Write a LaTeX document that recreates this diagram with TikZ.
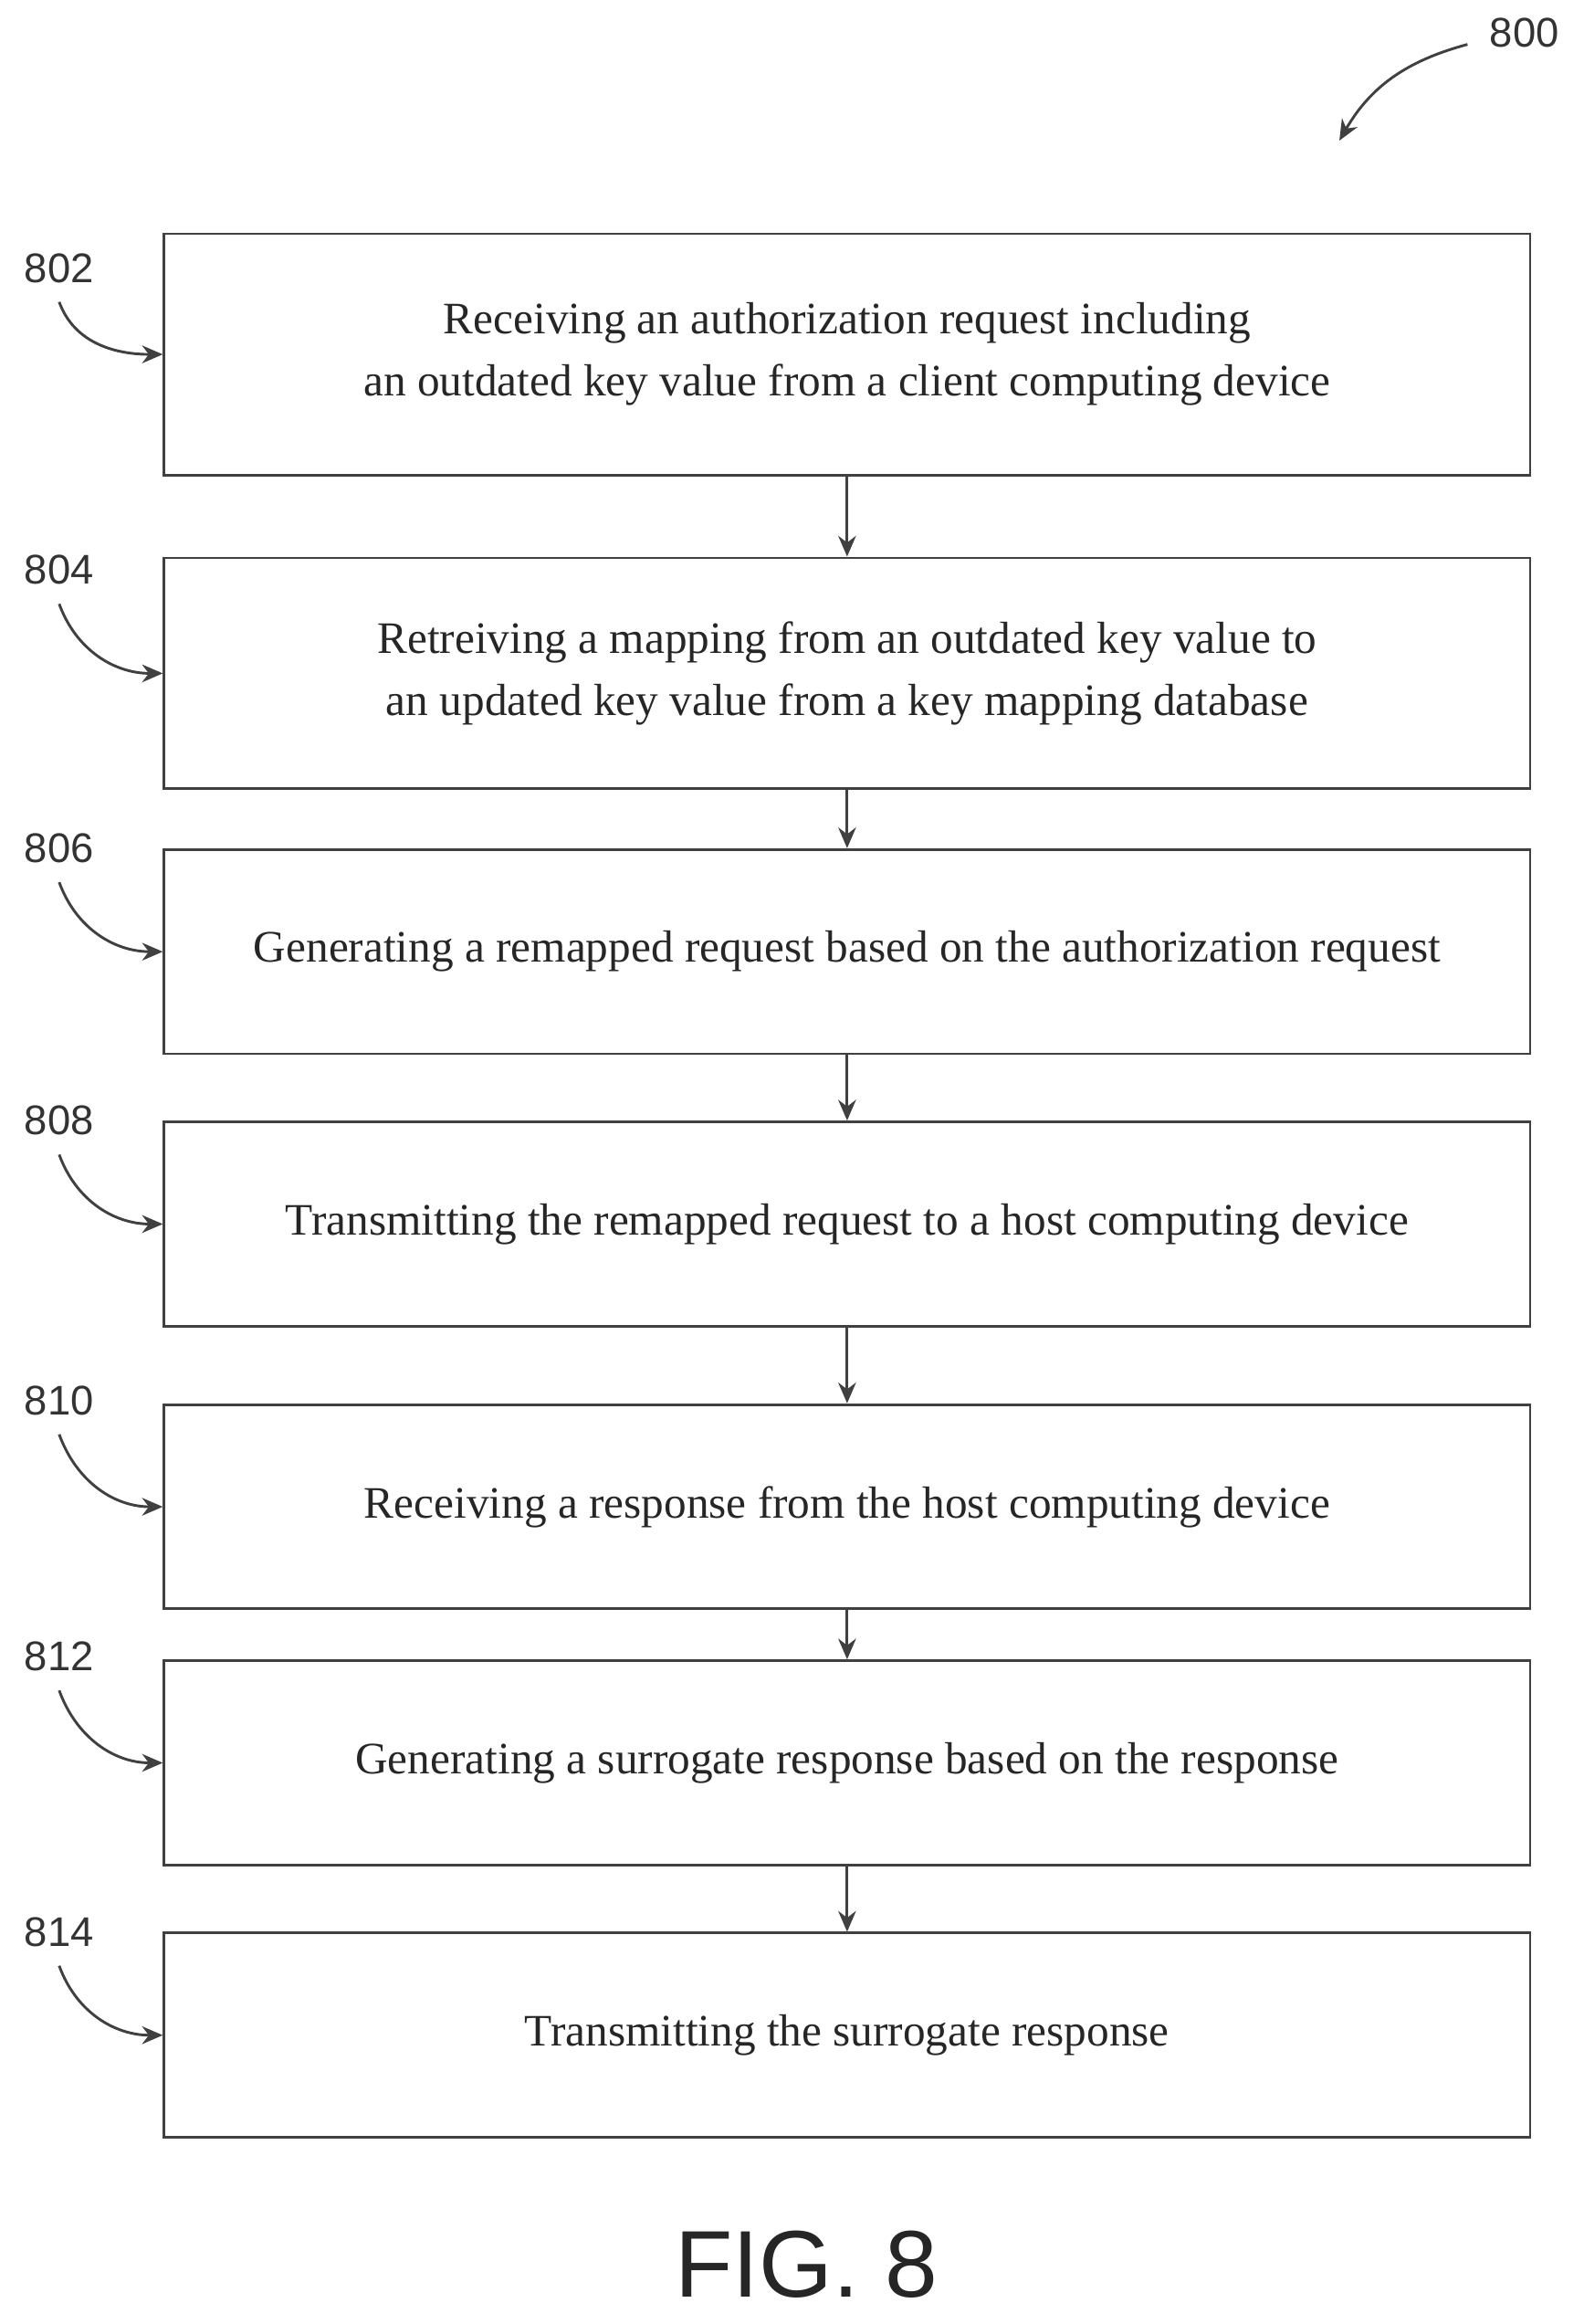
\documentclass[tikz,border=0pt]{standalone}
\usepackage{fontspec}
\setmainfont{Liberation Serif}
\newfontfamily\lblfont{Liberation Sans}
\usetikzlibrary{arrows.meta}
\begin{document}
\begin{tikzpicture}[x=0.5pt,y=-0.5pt,
  box/.style={draw=black!75,line width=0.9pt,minimum width=461.5pt,anchor=north west,inner sep=0pt,align=center,font=\fontsize{15.2}{21}\selectfont,text=black!85},
  lbl/.style={font=\lblfont\fontsize{14}{16}\selectfont,text=black!80},
  con/.style={draw=black!75,line width=0.9pt,-{Stealth[length=7pt,width=6pt]}}]
\useasboundingbox (0,0) rectangle (1070,1570);
\def\bx#1#2#3#4{\node[box,minimum height=#3*0.5pt] (#1) at (110,#2) {#4};}
\bx{b1}{157}{163}{Receiving an authorization request including\\an outdated key value from a client computing device}
\bx{b2}{376}{156}{Retreiving a mapping from an outdated key value to\\an updated key value from a key mapping database}
\bx{b3}{573}{138}{Generating a remapped request based on the authorization request}
\bx{b4}{757}{138}{Transmitting the remapped request to a host computing device}
\bx{b5}{948}{138}{Receiving a response from the host computing device}
\bx{b6}{1121}{138}{Generating a surrogate response based on the response}
\bx{b7}{1305}{138}{Transmitting the surrogate response}
\foreach \a/\b in {b1/b2,b2/b3,b3/b4,b4/b5,b5/b6,b6/b7} \draw[con] (\a.south) -- (\b.north);
\foreach \n/\l/\y in {b1/802/181,b2/804/385,b3/806/573,b4/808/757,b5/810/946,b6/812/1119,b7/814/1305}{
  \node[lbl] (l\n) at (40,\y) {\l};
  \draw[con] (l\n.south) ++(0,6) to[out=-70,in=180] (\n.west);
}
\node[lbl] (l800) at (1030,22) {800};
\coordinate (e800) at (905,95);
\draw[con] (l800.west) ++(-8,8) to[out=195,in=60] (e800);
\node[font=\lblfont\fontsize{32}{34}\selectfont,text=black!85] (fig) at (545,1530) {FIG. 8};
\end{tikzpicture}
\end{document}
